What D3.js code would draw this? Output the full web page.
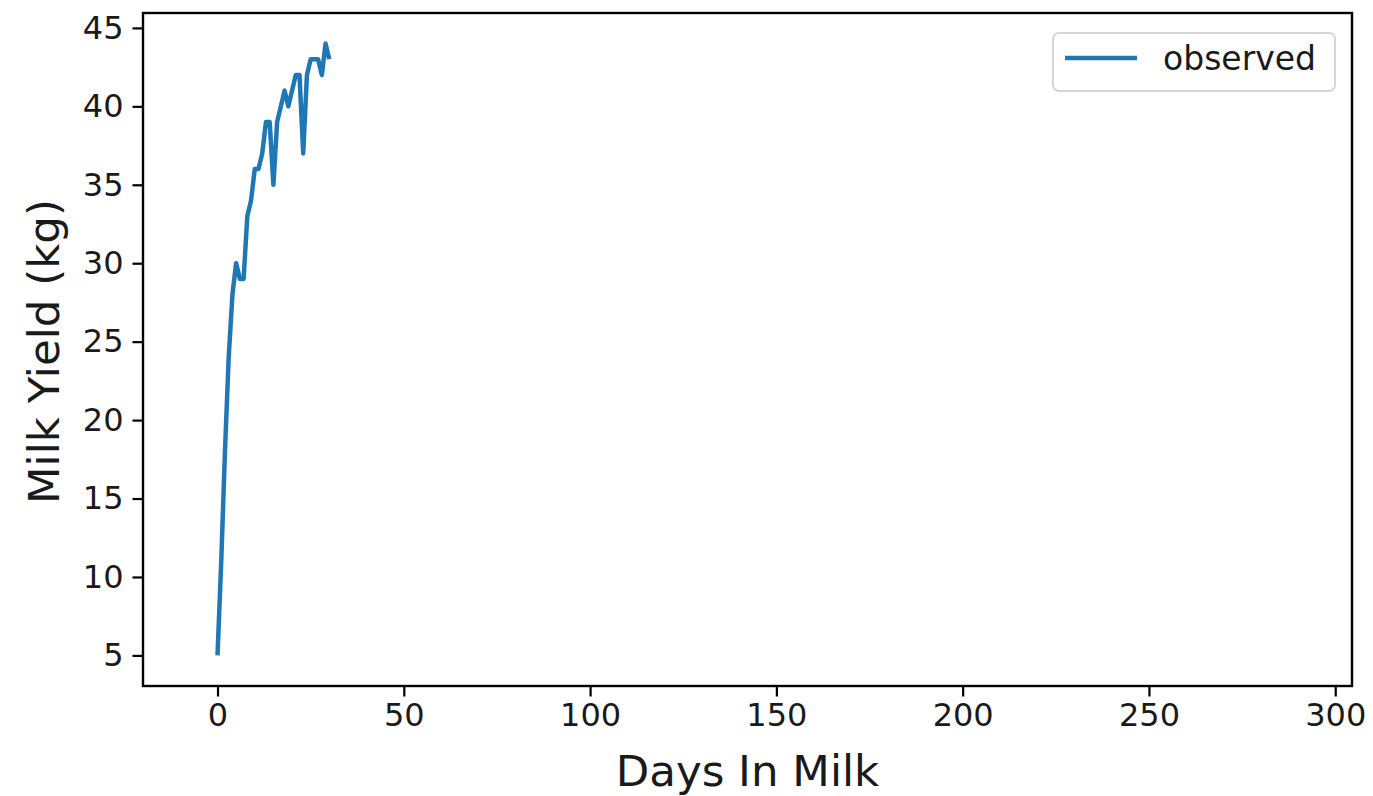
<!DOCTYPE html>
<html>
<head>
<meta charset="utf-8">
<script src="https://cdn.jsdelivr.net/npm/d3@7"></script>
<style>
  html, body { margin: 0; padding: 0; background: #fff; }
  svg { display: block; font-family: "DejaVu Sans", sans-serif; }
</style>
</head>
<body>
<svg id="chart" width="1373" height="796"></svg>
<script>
// ---- data ----
const days = [0,1,2,3,4,5,6,7,8,9,10,11,12,13,14,15,16,17,18,19,20,21,22,23,24,25,26,27,28,29,30];
const observed = [5,11,18,24,28,30,29,29,33,34,36,36,37,39,39,35,39,40,41,40,41,42,42,37,42,43,43,43,42,44,43];
const xTicks = [0,50,100,150,200,250,300];
const yTicks = [5,10,15,20,25,30,35,40,45];
const xLabel = "Days In Milk";
const yLabel = "Milk Yield (kg)";
const seriesName = "observed";

// ---- layout ----
const W = 1373, H = 796;
const plot = { left: 143, right: 1352, top: 13, bottom: 686 };
const svg = d3.select("#chart");

const x = d3.scaleLinear().domain([-20, 304.5]).range([plot.left, plot.right]);
const y = d3.scaleLinear().domain([3.05, 45.95]).range([plot.bottom, plot.top]);

const tickFont = 32, labelFont = 43.5, legendFont = 33;

// line
const line = d3.line().x((d, i) => x(days[i])).y(d => y(d));
svg.append("path")
  .datum(observed)
  .attr("d", line)
  .attr("fill", "none")
  .attr("stroke", "#1f77b4")
  .attr("stroke-width", 4.5)
  .attr("stroke-linejoin", "round")
  .attr("stroke-linecap", "butt");

// axes
const xAxis = d3.axisBottom(x).tickValues(xTicks).tickSizeOuter(0).tickSize(10.5).tickPadding(7);
const yAxis = d3.axisLeft(y).tickValues(yTicks).tickSizeOuter(0).tickSize(10.5).tickPadding(9);

const gx = svg.append("g").attr("transform", `translate(0,${plot.bottom})`).call(xAxis);
const gy = svg.append("g").attr("transform", `translate(${plot.left},0)`).call(yAxis);
[gx, gy].forEach(g => {
  g.select(".domain").remove();
  g.selectAll(".tick line").attr("stroke", "#000").attr("stroke-width", 2.2);
  g.selectAll(".tick text").attr("fill", "#1a1a1a").style("font-size", tickFont + "px")
    .style("font-family", "'DejaVu Sans', sans-serif");
});

// frame (spines)
svg.append("rect")
  .attr("x", plot.left).attr("y", plot.top)
  .attr("width", plot.right - plot.left).attr("height", plot.bottom - plot.top)
  .attr("fill", "none").attr("stroke", "#000").attr("stroke-width", 2.4);

// axis labels
svg.append("text")
  .attr("x", (plot.left + plot.right) / 2).attr("y", 786)
  .attr("text-anchor", "middle")
  .style("font-size", labelFont + "px").attr("fill", "#1a1a1a")
  .text(xLabel);
svg.append("text")
  .attr("transform", `translate(59,${(plot.top + plot.bottom) / 2 + 2}) rotate(-90)`)
  .attr("text-anchor", "middle")
  .style("font-size", labelFont + "px").attr("fill", "#1a1a1a")
  .text(yLabel);

// legend
const lg = svg.append("g");
lg.append("rect")
  .attr("x", 1053).attr("y", 33).attr("width", 282).attr("height", 58)
  .attr("rx", 6).attr("ry", 6)
  .attr("fill", "#fff").attr("fill-opacity", 0.8)
  .attr("stroke", "#d5d5d5").attr("stroke-width", 2);
lg.append("line")
  .attr("x1", 1065).attr("x2", 1137).attr("y1", 58).attr("y2", 58)
  .attr("stroke", "#1f77b4").attr("stroke-width", 4.5);
lg.append("text")
  .attr("x", 1163).attr("y", 70)
  .style("font-size", legendFont + "px").attr("fill", "#1a1a1a")
  .text(seriesName);
</script>
</body>
</html>
